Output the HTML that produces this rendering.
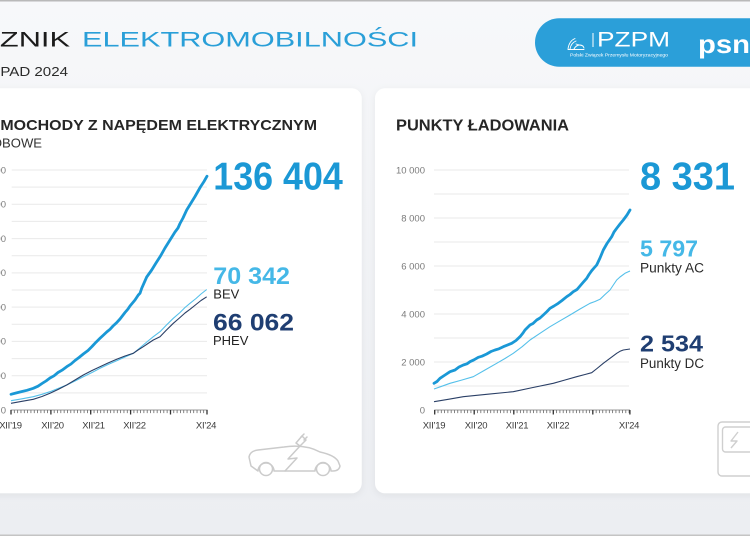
<!DOCTYPE html>
<html>
<head>
<meta charset="utf-8">
<style>
html,body{margin:0;padding:0;width:750px;height:536px;overflow:hidden;background:#f3f4f7}
svg{display:block}
</style>
</head>
<body>
<svg width="750" height="536" viewBox="0 0 750 536" xmlns="http://www.w3.org/2000/svg" font-family="'Liberation Sans', Arial, sans-serif">
  <defs>
    <linearGradient id="bg" x1="0" y1="0" x2="0" y2="1">
      <stop offset="0" stop-color="#f7f8fa"/>
      <stop offset="1" stop-color="#eceef2"/>
    </linearGradient>
    <filter id="sh" x="-10%" y="-10%" width="120%" height="125%">
      <feDropShadow dx="0" dy="2" stdDeviation="4" flood-color="#000" flood-opacity="0.06"/>
    </filter>
  </defs>

  <rect x="0" y="0" width="750" height="536" fill="url(#bg)"/>
  <rect x="0" y="0" width="750" height="1.5" fill="#b9b9b9"/>
  <rect x="0" y="534.5" width="750" height="1.5" fill="#c4c4c4"/>

  <!-- Header -->
  <text x="-48" y="46.7" font-size="21" fill="#1b1b1b" textLength="118" lengthAdjust="spacingAndGlyphs">LICZNIK</text>
  <text x="82" y="46.7" font-size="21" fill="#2a9fd8" textLength="336" lengthAdjust="spacingAndGlyphs">ELEKTROMOBILNOŚCI</text>
  <text x="-43" y="76" font-size="13" fill="#2b2b2b" textLength="111" lengthAdjust="spacingAndGlyphs">LISTOPAD 2024</text>

  <!-- Logo pill -->
  <rect x="535" y="18.3" width="260" height="48.4" rx="24.2" fill="#2b9fd9"/>
  <g fill="none" stroke="#fff" stroke-width="0.9" stroke-linecap="round">
    <path d="M568,49 Q569,41 575,38.5"/>
    <path d="M570,49 Q571,43 576,41"/>
    <path d="M568,49.5 L584,49.5"/>
    <path d="M574,49 Q576,45 580,45 Q583,45 584,48"/>
    <path d="M576,44 L583,46"/>
  </g>
  <rect x="592.5" y="33" width="1" height="14" fill="#fff"/>
  <text x="597" y="46.7" font-size="21" fill="#fff" textLength="73" lengthAdjust="spacingAndGlyphs">PZPM</text>
  <text x="570" y="56.5" font-size="4.2" fill="#fff" textLength="98" lengthAdjust="spacingAndGlyphs">Polski Związek Przemysłu Motoryzacyjnego</text>
  <text x="698" y="53" font-size="26" font-weight="bold" fill="#fff" textLength="78" lengthAdjust="spacingAndGlyphs">psnm</text>

  <!-- Cards -->
  <rect x="-20" y="88.3" width="381.7" height="405" rx="10" fill="#fff" filter="url(#sh)"/>
  <rect x="375" y="88.3" width="420" height="405" rx="10" fill="#fff" filter="url(#sh)"/>

  <!-- ===== LEFT CARD ===== -->
  <text x="-21.8" y="130" font-size="15" font-weight="bold" fill="#262626" textLength="338.8" lengthAdjust="spacingAndGlyphs">SAMOCHODY Z NAPĘDEM ELEKTRYCZNYM</text>
  <text x="-27" y="147.3" font-size="12.5" fill="#333" textLength="69" lengthAdjust="spacingAndGlyphs">OSOBOWE</text>

  <!-- gridlines left -->
  <g stroke="#e9e9e9" stroke-width="1">
    <line x1="11.7" y1="170" x2="207" y2="170"/>
    <line x1="11.7" y1="187.1" x2="207" y2="187.1"/>
    <line x1="11.7" y1="204.3" x2="207" y2="204.3"/>
    <line x1="11.7" y1="221.4" x2="207" y2="221.4"/>
    <line x1="11.7" y1="238.6" x2="207" y2="238.6"/>
    <line x1="11.7" y1="255.7" x2="207" y2="255.7"/>
    <line x1="11.7" y1="272.9" x2="207" y2="272.9"/>
    <line x1="11.7" y1="290" x2="207" y2="290"/>
    <line x1="11.7" y1="307.1" x2="207" y2="307.1"/>
    <line x1="11.7" y1="324.3" x2="207" y2="324.3"/>
    <line x1="11.7" y1="341.4" x2="207" y2="341.4"/>
    <line x1="11.7" y1="358.6" x2="207" y2="358.6"/>
    <line x1="11.7" y1="375.7" x2="207" y2="375.7"/>
    <line x1="11.7" y1="392.9" x2="207" y2="392.9"/>
  </g>
  <g font-size="9.5" fill="#7a7a7a" text-anchor="end">
    <text x="6" y="173.3">140 000</text>
    <text x="6" y="207.6">120 000</text>
    <text x="6" y="241.9">100 000</text>
    <text x="6" y="276.2">80 000</text>
    <text x="6" y="310.4">60 000</text>
    <text x="6" y="344.7">40 000</text>
    <text x="6" y="379">20 000</text>
    <text x="6" y="413.3">0</text>
  </g>
  <!-- axis left -->
  <line x1="10.6" y1="410" x2="207.6" y2="410" stroke="#777" stroke-width="0.8"/>
  <line x1="10.6" y1="411.6" x2="207.8" y2="411.6" stroke="#666" stroke-width="3" stroke-dasharray="0.8 2.522"/>
  <g stroke="#333" stroke-width="1.3">
    <line x1="11" y1="410" x2="11" y2="414.5"/>
    <line x1="50.9" y1="410" x2="50.9" y2="414.5"/>
    <line x1="90.7" y1="410" x2="90.7" y2="414.5"/>
    <line x1="130.6" y1="410" x2="130.6" y2="414.5"/>
    <line x1="170.5" y1="410" x2="170.5" y2="414.5"/>
    <line x1="207" y1="410" x2="207" y2="414.5"/>
  </g>
  <g font-size="9.5" fill="#3a3a3a" text-anchor="middle" letter-spacing="-0.3">
    <text x="10.5" y="428.5">XII’19</text>
    <text x="52.5" y="428.5">XII’20</text>
    <text x="93.5" y="428.5">XII’21</text>
    <text x="134.5" y="428.5">XII’22</text>
    <text x="206" y="428.5">XI’24</text>
  </g>

  <!-- series left -->
  <polyline fill="none" stroke="#55c0ea" stroke-width="1.1" stroke-linejoin="round" points="11,400.7 22,398.8 33.3,396.7 42,394.3 50,391.7 58,388.5 66.7,385 75,381 83.3,376.7 92,372.5 100,368.3 108,364.5 116.7,360.7 125,357 133.3,353.3 138,349.5 143.3,345 148,341 153.3,336.7 160,331.7 166,325.5 173.3,318.3 180,312.5 185,307.5 190,303.3 196,298.5 201,294 206.7,289.5"/>
  <polyline fill="none" stroke="#2a3f66" stroke-width="1.1" stroke-linejoin="round" points="11,403.3 22,401.3 33.3,399.3 42,396.5 50,393.3 58,389.5 66.7,385 75,380 83.3,375 92,370.5 100,366.7 108,363 116.7,359.3 125,356 133.3,353.3 138,350 143.3,346.7 148,343.5 153.3,340 160,336.7 166,330.5 173.3,323.3 180,317.5 185,313 190,309.3 196,304.5 201,300.5 206.7,296.8"/>
  <polyline fill="none" stroke="#1a98d6" stroke-width="2.8" stroke-linejoin="round" stroke-linecap="round" points="11,394.3 16,393 22,391.5 27,390.3 33.3,388.3 38,386.2 42,383.5 46,381 50,378 54,375.8 58,372.5 62,370.2 66.7,366.7 71,364 75,360.5 79,357.5 83.3,354 88,350.5 92,346.5 96,342.2 100,338.3 103,335.5 106.7,332 110,329.3 113,326 116.5,322.8 120,319 125,312.5 128,309 130,306 135,300 138.3,295 140,293.3 141.7,288.3 146.7,277 151.7,270 156,263 160.5,256 165,248 170,240 175,232 178,228 180,223.5 183,218 186.7,210 190.4,204 195,196.5 200.4,187 204,181.5 207,176.2"/>

  <!-- values left -->
  <text x="213.3" y="189.3" font-size="39" font-weight="bold" fill="#1b98d5" textLength="129.5" lengthAdjust="spacingAndGlyphs">136 404</text>
  <text x="213.3" y="284" font-size="24" font-weight="bold" fill="#45b8e7" textLength="76.7" lengthAdjust="spacingAndGlyphs">70 342</text>
  <text x="213.3" y="298.3" font-size="13" fill="#222">BEV</text>
  <text x="213" y="330.7" font-size="24" font-weight="bold" fill="#1f3e72" textLength="81" lengthAdjust="spacingAndGlyphs">66 062</text>
  <text x="213" y="345" font-size="13" fill="#222">PHEV</text>

  <!-- car icon -->
  <g fill="none" stroke="#cbcbcb" stroke-width="1.5" stroke-linejoin="round" stroke-linecap="round">
    <path d="M251,466 L249,457 Q250,451 258,450 L284,447 Q305,444 320,452 Q334,455 338,461 L340,466 Q339,471 333,471 L331,471 A8,8 0 0,0 315,471 L274,471 A8,8 0 0,0 258,471 Z"/>
    <circle cx="266" cy="469" r="6.5"/>
    <circle cx="323" cy="469" r="6.5"/>
    <path d="M300,446 L288,459 L297,458 L285,471"/>
    <path d="M300,446 L296,443 L302,436 L306,440 Z"/>
    <path d="M301,437 L304,434 M304,440 L307,437"/>
  </g>

  <!-- ===== RIGHT CARD ===== -->
  <text x="396" y="130.7" font-size="16" font-weight="bold" fill="#262626" textLength="173" lengthAdjust="spacingAndGlyphs">PUNKTY ŁADOWANIA</text>

  <g stroke="#e9e9e9" stroke-width="1">
    <line x1="434" y1="170" x2="629" y2="170"/>
    <line x1="434" y1="194" x2="629" y2="194"/>
    <line x1="434" y1="218" x2="629" y2="218"/>
    <line x1="434" y1="242" x2="629" y2="242"/>
    <line x1="434" y1="266" x2="629" y2="266"/>
    <line x1="434" y1="290" x2="629" y2="290"/>
    <line x1="434" y1="314" x2="629" y2="314"/>
    <line x1="434" y1="338" x2="629" y2="338"/>
    <line x1="434" y1="362" x2="629" y2="362"/>
    <line x1="434" y1="386" x2="629" y2="386"/>
  </g>
  <g font-size="9.5" fill="#7a7a7a" text-anchor="end">
    <text x="425" y="173.3">10 000</text>
    <text x="425" y="221.5">8 000</text>
    <text x="425" y="269.5">6 000</text>
    <text x="425" y="317.5">4 000</text>
    <text x="425" y="365.5">2 000</text>
    <text x="425" y="413.3">0</text>
  </g>
  <line x1="434.3" y1="410" x2="630" y2="410" stroke="#777" stroke-width="0.8"/>
  <line x1="434.3" y1="411.6" x2="630.3" y2="411.6" stroke="#666" stroke-width="3" stroke-dasharray="0.8 2.495"/>
  <g stroke="#333" stroke-width="1.3">
    <line x1="434.7" y1="410" x2="434.7" y2="414.5"/>
    <line x1="474.2" y1="410" x2="474.2" y2="414.5"/>
    <line x1="513.8" y1="410" x2="513.8" y2="414.5"/>
    <line x1="553.3" y1="410" x2="553.3" y2="414.5"/>
    <line x1="592.8" y1="410" x2="592.8" y2="414.5"/>
    <line x1="629.9" y1="410" x2="629.9" y2="414.5"/>
  </g>
  <g font-size="9.5" fill="#3a3a3a" text-anchor="middle" letter-spacing="-0.3">
    <text x="434" y="428.3">XII’19</text>
    <text x="476" y="428.3">XII’20</text>
    <text x="517" y="428.3">XII’21</text>
    <text x="558" y="428.3">XII’22</text>
    <text x="629" y="428.3">XI’24</text>
  </g>

  <polyline fill="none" stroke="#55c0ea" stroke-width="1.1" stroke-linejoin="round" points="434,389 442,386.2 450,383.3 462,380 473.3,376.7 485,370 496.7,363.3 505,358.5 513.3,353.3 522,346.8 530,340 540,333.3 550,326.7 560,320.8 570,315 580,309 590,303.3 595,301.5 600,299.3 605,294.5 610,290 613,285.5 616.7,280 620,277 625,273.3 630,271"/>
  <polyline fill="none" stroke="#2a3f66" stroke-width="1.1" stroke-linejoin="round" points="434,401.7 449,399.2 463.3,396.7 488,394.2 513.3,391.7 533,387.5 553.3,383.3 565,380 576.7,376.7 585,374.5 591.7,372.7 597,368.5 603.3,363.3 610,358.3 616.7,353.3 620,351.3 623.3,350 630,349"/>
  <polyline fill="none" stroke="#1a98d6" stroke-width="2.8" stroke-linejoin="round" stroke-linecap="round" points="434,383.3 437,381.5 440,378.3 445,375 450,371.7 455,370 459,367 463.3,365 467,363.8 470,361.7 474,359.8 478.3,357.3 482,356.2 486.7,354 491,351.5 495,350 499,348.8 503.3,346.7 508,344.8 511.7,343.3 516,340.5 520,336.7 523,333 525,330 530,325 533,323.5 536.7,320 540,318 543.3,315 547,311.5 550,308.3 554,306 558.3,303.3 562,300.5 566.7,296.7 570,294.5 573.3,291.7 577,289.5 580,286 583,282.5 586.7,278.3 589,274.5 591.7,270.7 594,268 596.7,265 600,258 603.3,250 607,243.5 611.7,236.7 614,232 616.7,228.3 620,224 623.3,220 627,215 630,210"/>

  <text x="640" y="189.3" font-size="39" font-weight="bold" fill="#1b98d5" textLength="95" lengthAdjust="spacingAndGlyphs">8 331</text>
  <text x="640" y="256.7" font-size="23" font-weight="bold" fill="#45b8e7" textLength="58" lengthAdjust="spacingAndGlyphs">5 797</text>
  <text x="640" y="272.7" font-size="13.5" fill="#2a2a2a" textLength="64" lengthAdjust="spacingAndGlyphs">Punkty AC</text>
  <text x="640" y="351.7" font-size="23" font-weight="bold" fill="#1f3e72" textLength="63" lengthAdjust="spacingAndGlyphs">2 534</text>
  <text x="640" y="368" font-size="13.5" fill="#2a2a2a" textLength="64" lengthAdjust="spacingAndGlyphs">Punkty DC</text>

  <!-- charger icon -->
  <g fill="none" stroke="#cfcfcf" stroke-width="1.4" stroke-linejoin="round">
    <rect x="718" y="422" width="40" height="54" rx="4"/>
    <rect x="722.5" y="427" width="30" height="25" rx="3"/>
    <path d="M738,432 L731,441 L737,441 L731,448"/>
  </g>
</svg>
</body>
</html>
